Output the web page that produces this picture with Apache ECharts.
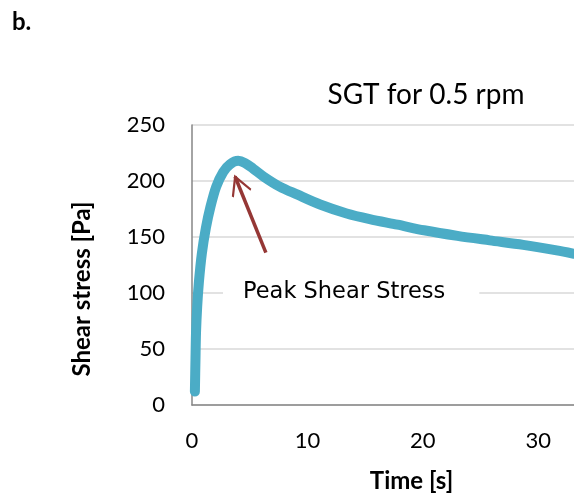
<!DOCTYPE html>
<html>
<head>
<meta charset="utf-8">
<script src="https://cdn.jsdelivr.net/npm/echarts@6/dist/echarts.min.js"></script>
<style>
html,body{margin:0;padding:0;background:#fff;}
#chart{width:574px;height:493px;}
</style>
</head>
<body>
<div id="chart"></div>
<script>
// Data
var timeS = [0.25, 0.3, 0.35, 0.45, 0.6, 0.85, 1.2, 1.6, 2.1, 2.7, 3.3, 4.0, 4.6, 5.3, 6.2, 7.6, 9.1, 11.1, 13.4, 15.4, 17.8, 20.1, 23.0, 25.8, 28.7, 31.6, 33.1];
var shearStress = [12, 40, 65, 88, 110, 135, 158, 177, 195, 208, 215, 218, 216, 211, 204, 195, 188, 179, 171, 166, 161, 156, 151, 147, 143, 138, 135];
var xTicks = [0, 10, 20, 30];
var yTicks = [0, 50, 100, 150, 200, 250];
var titleText = 'SGT for 0.5 rpm';
var panelLabel = 'b.';
var annotationText = 'Peak Shear Stress';
var arrowFrom = [6.4, 136];
var arrowTo = [3.73, 204];

var points = timeS.map(function (t, i) { return [t, shearStress[i]]; });

var chevron = 'path://M10,0 L10.02,0 L10,0.02 Z M10,16 L20,34.5 L18.5,36 L10,20.5 L1.5,36 L0,34.5 Z';

var chart = echarts.init(document.getElementById('chart'), null, {renderer: 'canvas'});
var calibri = 'Lato, "Open Sans", sans-serif';
chart.setOption({
  animation: false,
  backgroundColor: '#ffffff',
  title: {
    text: titleText,
    left: 421,
    top: 76,
    textAlign: 'center',
    textStyle: {fontFamily: calibri, fontWeight: 'normal', fontSize: 28, color: '#000'}
  },
  grid: {left: 192, right: 0, top: 125, bottom: 88, containLabel: false, outerBoundsMode: 'none'},
  xAxis: {
    type: 'value',
    min: 0,
    max: 33.1,
    interval: 10,
    name: 'Time [s]',
    nameLocation: 'middle',
    nameGap: 64,
    nameTextStyle: {fontFamily: calibri, fontWeight: 'bold', fontSize: 24, color: '#000', padding: [0, 0, 0, 57]},
    axisLine: {show: true, lineStyle: {color: '#868686', width: 1.5}},
    axisTick: {show: false},
    splitLine: {show: false},
    axisLabel: {
      fontFamily: calibri, fontSize: 22, color: '#000', margin: 25, showMaxLabel: false,
      formatter: function (v) { return xTicks.indexOf(v) >= 0 ? String(v) : ''; }
    }
  },
  yAxis: {
    type: 'value',
    min: 0,
    max: 250,
    interval: 50,
    name: 'Shear stress [Pa]',
    nameLocation: 'middle',
    nameGap: 98,
    nameRotate: 90,
    nameTextStyle: {fontFamily: calibri, fontWeight: 'bold', fontSize: 24, color: '#000', padding: [0, 48, 0, 0]},
    axisLine: {show: true, lineStyle: {color: '#868686', width: 1.5}},
    axisTick: {show: false},
    splitLine: {show: true, lineStyle: {color: '#d9d9d9', width: 1.5}},
    axisLabel: {
      fontFamily: calibri, fontSize: 22, color: '#000', margin: 27,
      formatter: function (v) { return yTicks.indexOf(v) >= 0 ? String(v) : ''; }
    }
  },
  graphic: [
    {
      type: 'text', left: 12, top: 10, z: 10,
      style: {text: panelLabel, font: 'bold 24px ' + calibri, fill: '#000'}
    },
    {
      type: 'text', left: 223, top: 279, z: 10,
      style: {
        text: annotationText, font: '22.5px "DejaVu Sans", sans-serif', fill: '#000',
        backgroundColor: '#ffffff', padding: [2, 34, 2, 20]
      }
    }
  ],
  series: [{
    type: 'line',
    data: points,
    showSymbol: false,
    smooth: 0.3,
    lineStyle: {color: '#4BACC6', width: 10, cap: 'round'},
    itemStyle: {color: '#4BACC6'},
    silent: true,
    z: 5,
    markLine: {
      silent: true,
      animation: false,
      symbol: ['none', chevron],
      symbolSize: [21, 38],
      label: {show: false},
      lineStyle: {color: '#953735', width: 3.5, type: 'solid'},
      emphasis: {disabled: true},
      data: [[{coord: arrowFrom}, {coord: arrowTo}]]
    }
  }]
});
</script>
</body>
</html>
